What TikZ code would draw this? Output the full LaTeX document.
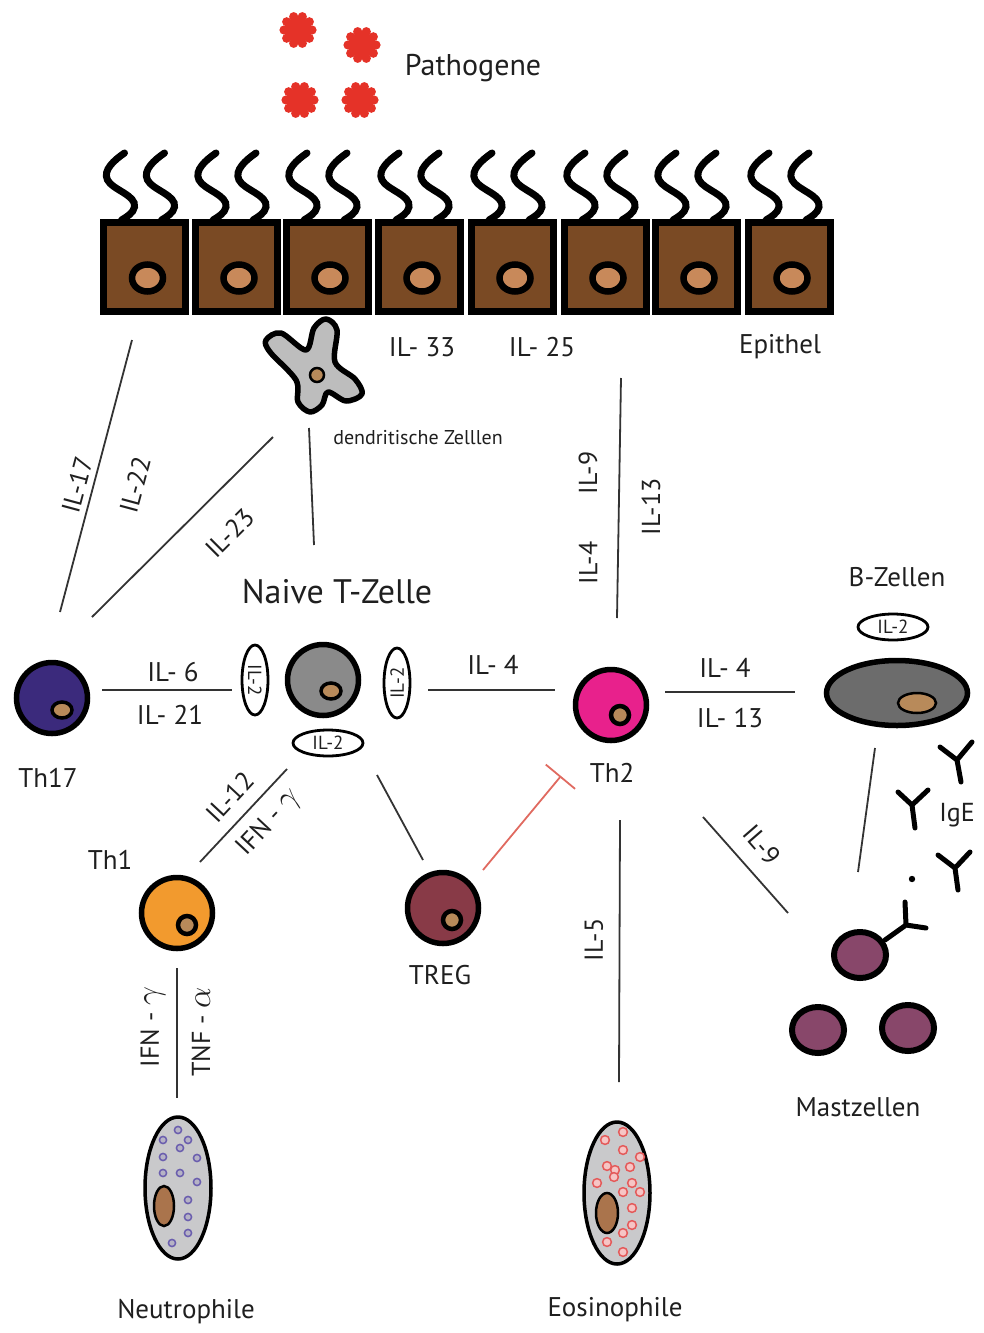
\documentclass[tikz,border=0pt]{standalone}
\usepackage{fontspec}
\setmainfont{PT Sans}
\usetikzlibrary{arrows.meta,shapes.geometric}

\definecolor{txt}{HTML}{1F1F1F}
\definecolor{lnk}{HTML}{333333}
\definecolor{epi}{HTML}{7A4A24}
\definecolor{nucl}{HTML}{C8895A}
\definecolor{pat}{HTML}{E53228}
\definecolor{thseventeen}{HTML}{3B2A7C}
\definecolor{naive}{HTML}{8A8A8A}
\definecolor{thtwo}{HTML}{E8218C}
\definecolor{thone}{HTML}{F29A2E}
\definecolor{tregc}{HTML}{883A47}
\definecolor{bcell}{HTML}{6C6C6C}
\definecolor{mast}{HTML}{88476A}
\definecolor{dend}{HTML}{BDBDBD}
\definecolor{gran}{HTML}{C9C9CB}
\definecolor{neutg}{HTML}{6A5DAE}
\definecolor{eosg}{HTML}{E45A5A}
\definecolor{inhib}{HTML}{E06A60}
\definecolor{cellnuc}{HTML}{B88A5A}

\newcommand{\gam}{\scalebox{1.35}{$\gamma$}}
\newcommand{\alp}{\scalebox{1.35}{$\alpha$}}

\begin{document}
\begin{tikzpicture}[x=1pt,y=-1pt,
  lbl/.style={font=\fontsize{27}{30}\selectfont, text=txt, inner sep=0pt},
  biglbl/.style={font=\fontsize{34}{38}\selectfont, text=txt, inner sep=0pt},
  smalllbl/.style={font=\fontsize{20}{24}\selectfont, text=txt, inner sep=0pt},
  rlbl/.style={font=\fontsize{26}{30}\selectfont, text=txt, inner sep=0pt},
  link/.style={draw=lnk, line width=1.8pt},
  tcell/.style={circle, draw=black, line width=5.5pt, minimum size=71pt, inner sep=0pt},
  nucring/.style={draw=black, line width=3.5pt, fill=cellnuc},
  epicell/.style={rectangle, draw=black, line width=7pt, fill=epi, minimum width=82pt, minimum height=89pt, inner sep=0pt},
  cilium/.style={draw=black, line width=7pt, line cap=round},
  iltwo/.style={ellipse, draw=black, line width=2.8pt, minimum width=70pt, minimum height=26pt, inner sep=0pt, font=\fontsize{19}{20}\selectfont, text=txt},
  granulo/.style={ellipse, draw=black, line width=3.5pt, fill=gran, minimum width=66pt, minimum height=142pt, inner sep=0pt},
  mastcell/.style={ellipse, draw=black, line width=6pt, fill=mast, minimum width=52pt, minimum height=46pt, inner sep=0pt},
  antibody/.style={draw=black, line width=5pt, line cap=round, line join=round}
]
\useasboundingbox (0,0) rectangle (983,1333);

% pathogens
\foreach \px/\py in {298/30,362/45,300/100,360/100}{
  \fill[pat] (\px,\py) circle (13);
  \foreach \a in {0,36,...,324}
    \fill[pat] ([shift={(\a:14)}]\px,\py) circle (4.6);
}
\node[lbl, font=\fontsize{30}{34}\selectfont] (pathlbl) at (473,68) {Pathogene};

% epithelium with cilia
\foreach \i/\cx in {1/144.5,2/236,3/327,4/419,5/512,6/605,7/696,8/789}{
  \foreach \sx in {\cx-20,\cx+20}{
    \draw[cilium] (\sx,153) .. controls (\sx-10,160) and (\sx-22,170) .. (\sx-17,180)
      .. controls (\sx-12,190) and (\sx+12,195) .. (\sx+10,207)
      .. controls (\sx+9,213) and (\sx+2,217) .. (\sx-3,220);
  }
  \node[epicell] (ep\i) at (\cx,267) {};
  \draw[draw=black, line width=6.5pt, fill=nucl] (\cx+3,278) ellipse [x radius=15.5, y radius=13.5];
}
\node[lbl] (epilbl) at (780,347) {Epithel};
\node[lbl] (il33) at (422,347) {IL- 33};
\node[lbl] (il25) at (542,347) {IL- 25};

% dendritic cell: four-armed outline
\draw[draw=black, line width=5.5pt, fill=dend, line join=round] plot[smooth cycle, tension=0.55] coordinates
  {(266,340) (281,333) (306,350) (314,328) (326,319) (337,330) (335,362) (355,379)
   (362,394) (346,401) (328,392) (322,405) (310,412) (298,402) (296,380) (270,352)};
\draw[draw=black, line width=2.5pt, fill=cellnuc] (317,375) circle (7);
\node[smalllbl] (dclbl) at (418,438) {dendritische Zelllen};

% T cells
\node[tcell, fill=naive] (naive) at (323,680) {};
\draw[nucring] ([shift={(8,11)}]naive.center) ellipse [x radius=10, y radius=8];
\node[biglbl] (naivelbl) at (337,592) {Naive T-Zelle};

\node[tcell, fill=thseventeen] (th17) at (52,698) {};
\draw[nucring] ([shift={(10,12)}]th17.center) ellipse [x radius=10, y radius=8];
\node[lbl] (th17lbl) at (48,778) {Th17};

\node[tcell, fill=thtwo] (th2) at (611,705) {};
\draw[draw=black, line width=4.5pt, fill=cellnuc] ([shift={(9,10)}]th2.center) circle (9);
\node[lbl] (th2lbl) at (612,773) {Th2};

\node[tcell, fill=thone] (th1) at (177,913) {};
\draw[draw=black, line width=4.5pt, fill=cellnuc] ([shift={(10,12)}]th1.center) circle (9);
\node[lbl] (th1lbl) at (110,860) {Th1};

\node[tcell, fill=tregc] (treg) at (443,908) {};
\draw[draw=black, line width=4.5pt, fill=cellnuc] ([shift={(9,12)}]treg.center) circle (9);
\node[lbl] (treglbl) at (440,975) {TREG};

% IL-2 around the naive T cell
\node[iltwo, rotate=-90] (il2l) at (255,680) {IL-2};
\node[iltwo, rotate=90] (il2r) at (397,683) {IL-2};
\node[iltwo] (il2b) at (328,743) {IL-2};

% B cells
\node[lbl] (blbl) at (897,577) {B-Zellen};
\node[iltwo] (il2bc) at (893,627) {IL-2};
\node[ellipse, draw=black, line width=5.5pt, fill=bcell, minimum width=141pt, minimum height=65pt, inner sep=0pt] (bcell) at (897,693) {};
\draw[draw=black, line width=2.5pt, fill=cellnuc] (917,703) ellipse [x radius=19, y radius=10];

% IgE antibodies
\draw[antibody] (940,747) -- (957,760) -- (972,742) (957,760) -- (961,782);
\draw[antibody] (898,792) -- (912,805) -- (928,790) (912,805) -- (915,828);
\draw[antibody] (938,855) -- (955,868) -- (970,852) (955,868) -- (958,890);
\fill[black] (912,879) circle (3.2);
\node[rlbl] (igelbl) at (957,815) {IgE};

% mast cells
\draw[antibody] (885,940) -- (906,925) -- (905,902) (906,925) -- (926,928);
\node[mastcell] (mast1) at (860,955) {};
\node[mastcell] (mast2) at (818,1030) {};
\node[mastcell] (mast3) at (908,1028) {};
\node[lbl] (mastlbl) at (858,1107) {Mastzellen};

% granulocytes
\node[granulo] (neut) at (178,1188) {};
\draw[draw=black, line width=2.5pt, fill=nucl!85!black] (164,1206) ellipse [x radius=10, y radius=20];
\foreach \gx/\gy in {178/1130,163/1140,188/1140,180/1148,163/1157,197/1158,163/1173,180/1173,197/1182,188/1200,188/1217,188/1233,172/1243}
  \draw[draw=neutg, line width=1.5pt, fill=gran!80!neutg] (\gx,\gy) circle (3.6);
\node[lbl] (neutlbl) at (186,1312) {Neutrophile};

\node[granulo] (eos) at (617,1193) {};
\draw[draw=black, line width=2.5pt, fill=nucl!85!black] (607,1213) ellipse [x radius=11, y radius=20];
\foreach \gx/\gy in {623/1132,605/1140,623/1150,640/1157,607/1166,615/1170,630/1167,614/1177,597/1183,632/1183,623/1192,640/1192,632/1208,632/1225,623/1233,607/1242,623/1252}
  \draw[draw=eosg, line width=1.5pt, fill=eosg!35] (\gx,\gy) circle (4.4);
\node[lbl] (eoslbl) at (615,1310) {Eosinophile};

% connector end points
\coordinate (a17) at (60,612);   \coordinate (b17) at (132,340);
\coordinate (a23) at (92,617);   \coordinate (b23) at (273,437);
\coordinate (adn) at (309,428);  \coordinate (bdn) at (314,545);
\coordinate (a6) at (102,690);   \coordinate (b6) at (232,690);
\coordinate (a4) at (428,690);   \coordinate (b4) at (555,690);
\coordinate (ab) at (665,692);   \coordinate (bb) at (795,692);
\coordinate (a12) at (200,862);  \coordinate (b12) at (287,769);
\coordinate (at) at (377,775);   \coordinate (bt) at (423,860);
\coordinate (ai) at (483,870);   \coordinate (bi) at (561,776);
\coordinate (au) at (621,378);   \coordinate (bu) at (617,618);
\coordinate (ad) at (620,820);   \coordinate (bd) at (619,1082);
\coordinate (a9) at (703,817);   \coordinate (b9) at (788,913);
\coordinate (abm) at (875,748);  \coordinate (bbm) at (858,872);
\coordinate (an) at (177,968);   \coordinate (bn) at (177,1098);

% connectors
\draw[link] (a17) -- (b17);
\draw[link] (a23) -- (b23);
\draw[link] (adn) -- (bdn);
\draw[link] (a6) -- (b6);
\draw[link] (a4) -- (b4);
\draw[link] (ab) -- (bb);
\draw[link] (a12) -- (b12);
\draw[link] (at) -- (bt);
\draw[draw=inhib, line width=1.8pt, -{Bar[width=38pt, line width=1.8pt]}] (ai) -- (bi);
\draw[link] (au) -- (bu);
\draw[link] (ad) -- (bd);
\draw[link] (a9) -- (b9);
\draw[link] (abm) -- (bbm);
\draw[link] (an) -- (bn);

% cytokine labels
\node[rlbl, rotate=75] (t17) at (77,485) {IL-17};
\node[rlbl, rotate=75] (t22) at (135,485) {IL-22};
\node[rlbl, rotate=45] (t23) at (230,533) {IL-23};
\node[lbl] (t6) at (173,672) {IL- 6};
\node[lbl] (t21) at (170,715) {IL- 21};
\node[lbl] (t4a) at (493,665) {IL- 4};
\node[lbl] (t4b) at (725,668) {IL- 4};
\node[lbl] (t13b) at (730,718) {IL- 13};
\node[rlbl, rotate=90] (t9u) at (588,473) {IL-9};
\node[rlbl, rotate=90] (t4u) at (588,563) {IL-4};
\node[rlbl, rotate=90] (t13u) at (651,507) {IL-13};
\node[rlbl, rotate=90] (t5) at (594,940) {IL-5};
\node[rlbl, rotate=-49] (t9m) at (762,845) {IL-9};
\node[rlbl, rotate=47] (t12) at (230,797) {IL-12};
\node[rlbl, rotate=47] (tifn) at (270,823) {IFN - \gam};
\node[rlbl, rotate=90] (tifn2) at (153,1027) {IFN - \gam};
\node[rlbl, rotate=90] (ttnf) at (201,1032) {TNF - \alp};
\end{tikzpicture}
\end{document}
